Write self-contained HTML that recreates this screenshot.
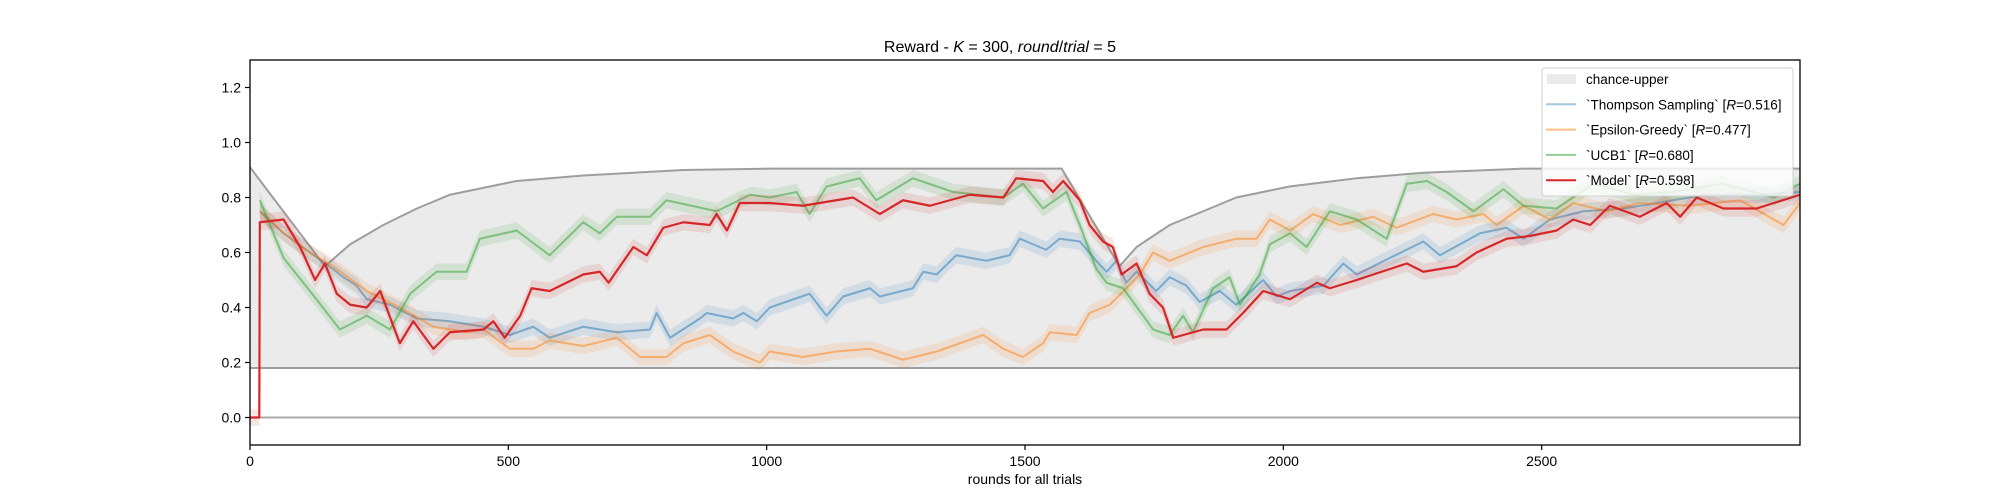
<!DOCTYPE html>
<html><head><meta charset="utf-8">
<style>
html,body{margin:0;padding:0;background:#fff;}
svg{display:block;font-family:"Liberation Sans","DejaVu Sans",sans-serif;}
</style></head>
<body>
<svg id="chart" width="2000" height="500" viewBox="0 0 2000 500">
<text x="1000" y="52" text-anchor="middle" font-size="16">Reward - <tspan font-style="italic">K</tspan> = 300, <tspan font-style="italic">round</tspan>/<tspan font-style="italic">trial</tspan> = 5</text>
<g id="plot"></g>
<g id="axes"></g>
<text x="1025" y="484" text-anchor="middle" font-size="14">rounds for all trials</text>
<g id="legend"></g>
</svg>
<script>
// ---- data ----
const upperX = [0,145,194,258,323,387,516,645,839,1006,1200,1571,1683,1716,1780,1845,1909,2012,2142,2271,2465,2700,3000];
const upperY = [0.91,0.55,0.63,0.70,0.76,0.81,0.86,0.88,0.90,0.905,0.905,0.905,0.55,0.62,0.70,0.75,0.80,0.84,0.87,0.89,0.905,0.905,0.905];
const lowerY = 0.18;

const greenX = [19,65,116,174,226,271,310,361,419,445,516,580,645,677,710,774,806,903,968,1006,1058,1083,1116,1180,1212,1283,1361,1458,1496,1535,1580,1606,1638,1658,1690,1748,1780,1806,1825,1864,1896,1916,1954,1974,2013,2045,2090,2142,2200,2239,2278,2316,2368,2426,2465,2529,2600,2680,2750,2850,2950,3000];
const greenY = [0.79,0.58,0.46,0.32,0.37,0.32,0.45,0.53,0.53,0.65,0.68,0.59,0.71,0.67,0.73,0.73,0.79,0.75,0.81,0.80,0.82,0.74,0.84,0.87,0.79,0.87,0.82,0.80,0.85,0.76,0.82,0.70,0.54,0.49,0.47,0.32,0.30,0.37,0.31,0.47,0.51,0.41,0.52,0.63,0.67,0.62,0.75,0.72,0.65,0.85,0.86,0.82,0.75,0.83,0.77,0.76,0.85,0.81,0.82,0.85,0.80,0.85];

const redX = [0,18,19,65,97,126,145,168,194,226,252,290,316,355,387,452,471,493,523,545,580,645,677,694,742,768,800,839,890,903,923,948,1006,1070,1167,1219,1264,1316,1393,1458,1483,1535,1554,1574,1606,1625,1651,1670,1687,1716,1741,1767,1787,1845,1890,1922,1961,2013,2065,2090,2142,2174,2239,2271,2335,2374,2432,2477,2529,2561,2594,2632,2690,2742,2768,2800,2852,2916,3000];
const redY = [0,0,0.71,0.72,0.62,0.50,0.56,0.45,0.41,0.40,0.46,0.27,0.35,0.25,0.31,0.32,0.35,0.29,0.37,0.47,0.46,0.52,0.53,0.49,0.62,0.59,0.69,0.71,0.70,0.74,0.68,0.78,0.78,0.77,0.80,0.74,0.79,0.77,0.81,0.80,0.87,0.86,0.82,0.86,0.79,0.70,0.64,0.62,0.52,0.56,0.45,0.40,0.29,0.32,0.32,0.38,0.46,0.43,0.49,0.47,0.50,0.52,0.56,0.53,0.55,0.60,0.65,0.66,0.68,0.72,0.70,0.77,0.73,0.78,0.73,0.80,0.76,0.76,0.81];

const blueX = [19,65,116,161,181,206,226,271,323,387,452,503,548,580,645,710,774,787,813,871,884,935,955,981,1006,1083,1116,1148,1200,1219,1283,1303,1329,1367,1425,1470,1490,1541,1567,1606,1638,1658,1677,1696,1716,1754,1780,1812,1838,1877,1909,1961,1987,2013,2078,2116,2142,2206,2271,2303,2381,2432,2465,2516,2581,2658,2723,2819,2916,3000];
const blueY = [0.75,0.67,0.60,0.54,0.51,0.48,0.43,0.41,0.36,0.35,0.33,0.30,0.33,0.29,0.33,0.31,0.32,0.38,0.29,0.36,0.38,0.36,0.38,0.35,0.40,0.45,0.37,0.44,0.47,0.44,0.47,0.53,0.52,0.59,0.57,0.59,0.65,0.61,0.65,0.64,0.57,0.53,0.57,0.49,0.53,0.46,0.51,0.48,0.42,0.46,0.41,0.50,0.44,0.46,0.48,0.56,0.52,0.58,0.64,0.59,0.67,0.69,0.65,0.72,0.75,0.76,0.78,0.81,0.81,0.82];

const orangeX = [19,65,116,161,226,290,355,419,452,503,548,580,645,710,755,806,839,890,935,987,1006,1070,1135,1200,1264,1329,1419,1458,1496,1535,1548,1600,1625,1664,1696,1722,1748,1780,1845,1909,1948,1974,2013,2058,2110,2174,2219,2290,2335,2387,2413,2465,2516,2561,2626,2690,2787,2884,2968,3000];
const orangeY = [0.75,0.67,0.60,0.55,0.46,0.40,0.33,0.31,0.32,0.25,0.25,0.28,0.26,0.29,0.22,0.22,0.27,0.30,0.24,0.20,0.24,0.22,0.24,0.25,0.21,0.24,0.30,0.25,0.22,0.27,0.31,0.30,0.38,0.41,0.47,0.52,0.60,0.57,0.62,0.65,0.65,0.72,0.68,0.74,0.70,0.73,0.69,0.74,0.72,0.74,0.70,0.77,0.72,0.78,0.75,0.78,0.77,0.79,0.70,0.78];

const xTicks = [0,500,1000,1500,2000,2500];
const yTicks = [0.0,0.2,0.4,0.6,0.8,1.0,1.2];

// ---- axes ----
const L=250,R=1800,T=60,B=445;
const X0=0,X1=3000,Y0=-0.1,Y1=1.3;
const sx = v => L + (v-X0)/(X1-X0)*(R-L);
const sy = v => B - (v-Y0)/(Y1-Y0)*(B-T);
const NS='http://www.w3.org/2000/svg';
const plot=document.getElementById('plot');
const axes=document.getElementById('axes');
const legend=document.getElementById('legend');
function mk(tag,attrs,parent){const e=document.createElementNS(NS,tag);for(const k in attrs)e.setAttribute(k,attrs[k]);parent.appendChild(e);return e;}

// chance-upper fill
let d='M'+sx(upperX[0])+','+sy(lowerY);
for(let i=0;i<upperX.length;i++) d+=' L'+sx(upperX[i])+','+sy(upperY[i]);
d+=' L'+sx(upperX[upperX.length-1])+','+sy(lowerY)+' Z';
const fill=mk('path',{d:d,fill:'#ebebeb',stroke:'none'},plot);


let ud='';
for(let i=0;i<upperX.length;i++) ud+=(i?' L':'M')+sx(upperX[i])+','+sy(upperY[i]);
const uline=mk('path',{d:ud,fill:'none',stroke:'#9e9e9e','stroke-width':2},plot);


const lline=mk('line',{x1:sx(0),x2:sx(3000),y1:sy(lowerY),y2:sy(lowerY),stroke:'#9e9e9e','stroke-width':2},plot);


const zline=mk('line',{x1:sx(0),x2:sx(3000),y1:sy(0),y2:sy(0),stroke:'#aaaaaa','stroke-width':2},plot);



function series(xs,ys,color,alpha,w,name){
  let top='',bot='';
  for(let i=0;i<xs.length;i++){top+=(i?' L':'M')+sx(xs[i])+','+sy(ys[i]+0.03);}
  for(let i=xs.length-1;i>=0;i--){bot+=' L'+sx(xs[i])+','+sy(ys[i]-0.03);}
  const band=mk('path',{d:top+bot+' Z',fill:color,'fill-opacity':0.12,stroke:'none'},plot);
  
  
  let ld='';
  for(let i=0;i<xs.length;i++) ld+=(i?' L':'M')+sx(xs[i])+','+sy(ys[i]);
  const ln=mk('path',{d:ld,fill:'none',stroke:color,'stroke-opacity':alpha,'stroke-width':w,'stroke-linejoin':'round'},plot);
  
  
}
series(blueX,blueY,'#1f77b4',0.5,2,'thompson-sampling');
series(orangeX,orangeY,'#ff7f0e',0.5,2,'epsilon-greedy');
series(greenX,greenY,'#2ca02c',0.5,2,'ucb1');
series(redX,redY,'#d62728',1,2.2,'model');

// frame
const fr=mk('rect',{x:L,y:T,width:R-L,height:B-T,fill:'none',stroke:'#000','stroke-width':1.3},axes);


for(const t of xTicks){
  const tk=mk('line',{x1:sx(t),x2:sx(t),y1:B,y2:B+5,stroke:'#000','stroke-width':1.2},axes);
  
  
  const tl=mk('text',{x:sx(t),y:B+21,'text-anchor':'middle','font-size':14},axes);
  tl.textContent=String(t);
  
  
}
for(const t of yTicks){
  const tk=mk('line',{x1:L-5,x2:L,y1:sy(t),y2:sy(t),stroke:'#000','stroke-width':1.2},axes);
  
  
  const tl=mk('text',{x:L-9,y:sy(t)+5,'text-anchor':'end','font-size':14},axes);
  tl.textContent=t.toFixed(1);
  
  
}

// legend
const lb=mk('rect',{x:1542,y:68,width:251,height:128,rx:3,fill:'#fff','fill-opacity':0.8,stroke:'#d0d0d0','stroke-width':1},legend);


const entries=[['chance-upper',null],['`Thompson Sampling` [R=0.516]','#a5c8e1'],['`Epsilon-Greedy` [R=0.477]','#ffbf86'],['`UCB1` [R=0.680]','#95cf95'],['`Model` [R=0.598]','#d62728']];
entries.forEach((e,i)=>{
  const cy=79+i*25.3;
  if(e[1]===null){
    const p=mk('rect',{x:1547,y:cy-5,width:29,height:10,fill:'#ebebeb'},legend);
    
    
  } else {
    const p=mk('line',{x1:1546,x2:1576,y1:cy,y2:cy,stroke:e[1],'stroke-width':2},legend);
    
    
  }
  const t=mk('text',{x:1586,y:cy+5,'font-size':13.5},legend);
  const parts=e[0].split('R=');
  if(parts.length>1){
    t.appendChild(document.createTextNode(parts[0]));
    const it=mk('tspan',{'font-style':'italic'},t); it.textContent='R';
    t.appendChild(document.createTextNode('='+parts[1]));
  } else t.textContent=e[0];
  
  
});
</script>
</body></html>
